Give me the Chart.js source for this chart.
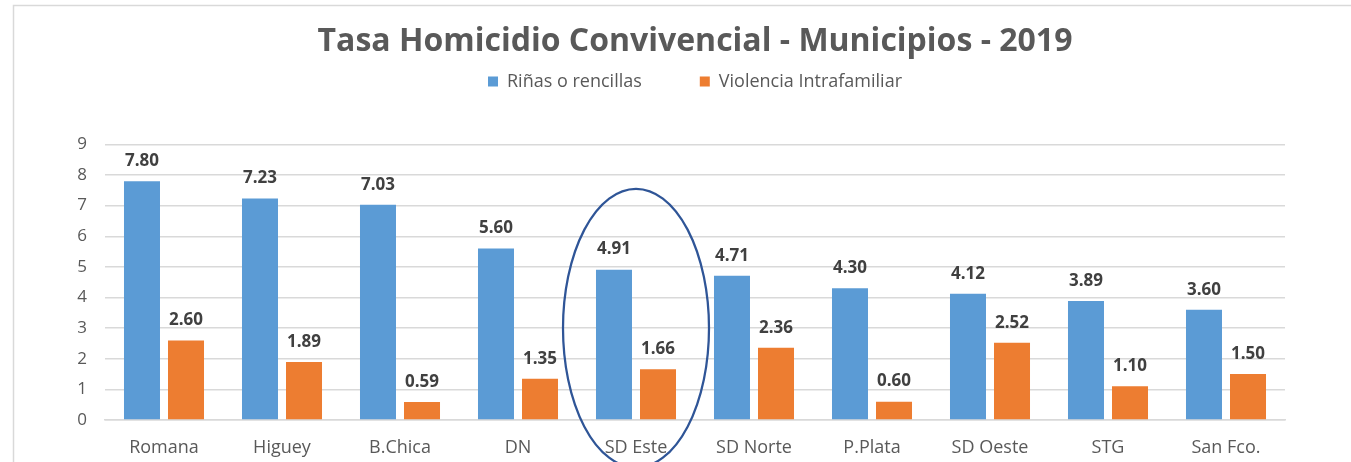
<!DOCTYPE html>
<html>
<head>
<meta charset="utf-8">
<script src="https://cdn.jsdelivr.net/npm/chart.js@4/dist/chart.umd.min.js"></script>
<style>
  html, body { margin: 0; padding: 0; background: #fff; }
  #wrap { width: 1351px; height: 462px; }
</style>
</head>
<body>
<div id="wrap"><canvas id="homicidioChart"></canvas></div>
<script>
// Chart data
const municipios = ['Romana', 'Higuey', 'B.Chica', 'DN', 'SD Este', 'SD Norte', 'P.Plata', 'SD Oeste', 'STG', 'San Fco.'];
const rinas = [7.80, 7.23, 7.03, 5.60, 4.91, 4.71, 4.30, 4.12, 3.89, 3.60];
const violencia = [2.60, 1.89, 0.59, 1.35, 1.66, 2.36, 0.60, 2.52, 1.10, 1.50];
const yTicks = [0, 1, 2, 3, 4, 5, 6, 7, 8, 9];
const highlightIndex = 4; // SD Este

const FONT = "'Open Sans', 'Noto Sans', sans-serif";

// Outer frame like the original screenshot
const framePlugin = {
    id: 'frame',
    beforeDraw(chart) {
        const ctx = chart.ctx;
        ctx.save();
        ctx.strokeStyle = '#d9d9d9';
        ctx.lineWidth = 1.5;
        ctx.strokeRect(13.5, 5.5, 3000, 3000);
        ctx.restore();
    }
};

// Value labels above each bar
const valueLabels = {
    id: 'valueLabels',
    afterDatasetsDraw(chart) {
        const ctx = chart.ctx;
        ctx.save();
        ctx.font = 'bold 17px ' + FONT;
        ctx.fillStyle = '#404040';
        ctx.textAlign = 'center';
        ctx.textBaseline = 'middle';
        chart.data.datasets.forEach((ds, i) => {
            chart.getDatasetMeta(i).data.forEach((bar, j) => {
                ctx.fillText(ds.data[j].toFixed(2), bar.x, bar.y - 20);
            });
        });
        ctx.restore();
    }
};

// Ellipse around the highlighted municipality
const highlight = {
    id: 'highlight',
    afterDraw(chart) {
        const x = chart.scales.x, y = chart.scales.y;
        const cx = x.getPixelForValue(highlightIndex);
        const top = y.getPixelForValue(7.55);
        const cy = y.getPixelForValue(3.0);
        const ctx = chart.ctx;
        ctx.save();
        ctx.strokeStyle = '#2f5597';
        ctx.lineWidth = 2.25;
        ctx.beginPath();
        ctx.ellipse(cx, cy, 73, cy - top, 0, 0, Math.PI * 2);
        ctx.stroke();
        ctx.restore();
    }
};

// Extra room under the legend before the plot starts
const legendSpace = {
    id: 'legendSpace',
    beforeInit(chart) {
        const fit = chart.legend.fit;
        chart.legend.fit = function() {
            fit.bind(chart.legend)();
            this.height += 44;
        };
    }
};

new Chart(document.getElementById('homicidioChart'), {
    type: 'bar',
    data: {
        labels: municipios,
        datasets: [{
            label: 'Riñas o rencillas',
            data: rinas,
            backgroundColor: '#5b9bd5',
            categoryPercentage: 0.746,
            barPercentage: 0.818
        }, {
            label: 'Violencia Intrafamiliar',
            data: violencia,
            backgroundColor: '#ed7d31',
            categoryPercentage: 0.746,
            barPercentage: 0.818
        }]
    },
    options: {
        responsive: true,
        maintainAspectRatio: false,
        animation: false,
        layout: {
            padding: { left: 13, right: 66, top: 5, bottom: 0 }
        },
        plugins: {
            title: {
                display: true,
                fullSize: false,
                text: 'Tasa Homicidio Convivencial - Municipios - 2019',
                color: '#595959',
                font: { family: FONT, size: 32, weight: 'bold' },
                padding: { top: 18, bottom: -47 }
            },
            legend: {
                position: 'top',
                fullSize: false,
                labels: {
                    color: '#595959',
                    font: { family: FONT, size: 18 },
                    boxWidth: 10,
                    boxHeight: 10,
                    padding: 58
                }
            },
            tooltip: { enabled: false }
        },
        scales: {
            x: {
                grid: { display: false, drawTicks: false },
                border: { color: '#d9d9d9', width: 1.5 },
                ticks: {
                    color: '#595959',
                    font: { family: FONT, size: 18 },
                    padding: 17
                },
                afterFit(scale) { scale.height = 42; }
            },
            y: {
                min: 0,
                max: 9,
                afterBuildTicks(scale) { scale.ticks = yTicks.map(v => ({ value: v })); },
                grid: { color: '#d9d9d9', lineWidth: 1.5, drawTicks: false },
                border: { display: false },
                ticks: {
                    color: '#595959',
                    font: { family: FONT, size: 17 },
                    padding: 18
                },
                afterFit(scale) { scale.width = 92; }
            }
        }
    },
    plugins: [framePlugin, valueLabels, highlight, legendSpace]
});
</script>
</body>
</html>
